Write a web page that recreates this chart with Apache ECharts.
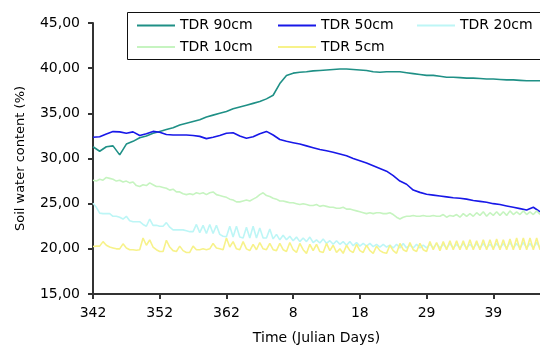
<!DOCTYPE html>
<html>
<head>
<meta charset="utf-8">
<script src="https://cdn.jsdelivr.net/npm/echarts@6/dist/echarts.min.js"></script>
<style>
html,body{margin:0;padding:0;background:#fff;}
#chart{width:540px;height:347px;}
</style>
</head>
<body>
<div id="chart"></div>
<script>
// x tick labels (Julian days), one every 10 axis units
const xTickLabels = ['342', '352', '362', '8', '18', '29', '39'];
const seriesNames = ['TDR 90cm', 'TDR 50cm', 'TDR 20cm', 'TDR 10cm', 'TDR 5cm'];

// daily readings (one per axis unit 0..67)
const tdr90 = [31.3, 30.8, 31.3, 31.4, 30.4, 31.6, 31.9, 32.3, 32.5, 32.8,
  33.0, 33.2, 33.4, 33.7, 33.9, 34.1, 34.3, 34.6, 34.8, 35.0,
  35.2, 35.5, 35.7, 35.9, 36.1, 36.3, 36.6, 37.0, 38.3, 39.2,
  39.45, 39.55, 39.6, 39.7, 39.75, 39.8, 39.85, 39.9, 39.9, 39.85,
  39.8, 39.75, 39.6, 39.55, 39.6, 39.6, 39.6, 39.5, 39.4, 39.3,
  39.2, 39.2, 39.1, 39.0, 39.0, 38.95, 38.9, 38.9, 38.85, 38.8,
  38.8, 38.75, 38.7, 38.7, 38.65, 38.6, 38.6, 38.6];
const tdr50 = [32.35, 32.4, 32.7, 32.98, 32.95, 32.8, 32.95, 32.55, 32.75, 33.0,
  32.9, 32.65, 32.6, 32.6, 32.6, 32.55, 32.45, 32.2, 32.35, 32.55,
  32.8, 32.85, 32.5, 32.25, 32.4, 32.75, 33.0, 32.6, 32.1, 31.9,
  31.75, 31.6, 31.4, 31.2, 31.0, 30.85, 30.7, 30.5, 30.3, 30.0,
  29.75, 29.5, 29.2, 28.9, 28.6, 28.1, 27.5, 27.15, 26.5, 26.25,
  26.05, 25.95, 25.85, 25.75, 25.65, 25.6, 25.5, 25.35, 25.25, 25.15,
  25.0, 24.9, 24.75, 24.6, 24.45, 24.3, 24.6, 24.1];

// half-day readings (two per axis unit, 0..67)
const tdr20 = [25.05, 24.6, 23.95, 23.9, 23.9, 23.9, 23.6, 23.6, 23.5, 23.3,
  23.6, 23.1, 23.0, 23.0, 23.0, 22.7, 22.5, 23.3, 22.6, 22.6,
  22.5, 22.5, 22.9, 22.4, 22.1, 22.1, 22.1, 22.1, 22.0, 21.9,
  21.9, 22.7, 21.8, 22.6, 21.7, 22.7, 21.7, 22.6, 21.6, 21.4,
  21.35, 22.5, 21.3, 22.5, 21.3, 21.2, 22.4, 21.2, 22.5, 21.2,
  22.3, 21.2, 21.2, 22.2, 21.1, 21.6, 21.0, 21.5, 21.0, 21.4,
  20.9, 21.3, 20.8, 21.2, 20.8, 21.3, 20.7, 21.0, 20.65, 21.1,
  20.6, 20.9, 20.5, 20.9, 20.5, 20.8, 20.4, 20.8, 20.35, 20.7,
  20.3, 20.6, 20.3, 20.6, 20.25, 20.5, 20.2, 20.5, 20.2, 20.4,
  20.1, 20.5, 20.1, 20.6, 20.1, 20.4, 20.1, 20.5, 20.1, 20.4,
  20.1, 20.5, 20.1, 20.6, 20.1, 20.5, 20.1, 20.6, 20.1, 20.5,
  20.1, 20.6, 20.1, 20.5, 20.1, 20.6, 20.1, 20.6, 20.1, 20.5,
  20.1, 20.6, 20.1, 20.6, 20.1, 20.7, 20.1, 20.6, 20.1, 20.7,
  20.1, 20.6, 20.1, 20.7, 20.1];
const tdr10 = [27.6, 27.5, 27.7, 27.6, 27.9, 27.8, 27.7, 27.5, 27.6, 27.4,
  27.5, 27.3, 27.4, 27.0, 26.9, 27.1, 27.0, 27.3, 27.1, 26.9,
  26.9, 26.8, 26.7, 26.5, 26.6, 26.3, 26.3, 26.1, 26.0, 26.1,
  26.0, 26.2, 26.1, 26.2, 26.0, 26.2, 26.3, 26.0, 25.9, 25.8,
  25.7, 25.5, 25.4, 25.2, 25.2, 25.3, 25.4, 25.3, 25.5, 25.7,
  26.0, 26.2, 25.9, 25.8, 25.6, 25.5, 25.3, 25.3, 25.2, 25.1,
  25.1, 25.0, 24.9, 25.0, 24.9, 24.8, 24.8, 24.9, 24.7, 24.8,
  24.7, 24.6, 24.6, 24.5, 24.5, 24.6, 24.4, 24.4, 24.3, 24.2,
  24.1, 24.0, 23.9, 24.0, 23.9, 24.0, 24.0, 23.9, 23.9, 24.0,
  23.8, 23.5, 23.3, 23.5, 23.6, 23.6, 23.7, 23.6, 23.6, 23.7,
  23.6, 23.6, 23.7, 23.6, 23.6, 23.8, 23.5, 23.7, 23.6, 23.8,
  23.5, 23.9, 23.6, 23.9, 23.6, 24.0, 23.7, 24.1, 23.6, 24.0,
  23.7, 24.1, 23.7, 24.1, 23.7, 24.2, 23.8, 24.1, 23.8, 24.2,
  23.8, 24.1, 23.8, 24.2, 23.8];
const tdr5 = [20.25, 20.3, 20.3, 20.8, 20.4, 20.2, 20.1, 20.0, 20.0, 20.55,
  20.1, 19.9, 19.9, 19.85, 19.9, 21.2, 20.4, 21.0, 20.2, 19.9,
  19.7, 19.7, 20.95, 20.2, 19.8, 19.7, 20.3, 19.8, 19.6, 19.6,
  20.3, 19.9, 19.9, 20.0, 19.9, 20.0, 20.6, 20.1, 20.0, 19.9,
  21.2, 20.2, 20.8, 20.0, 19.9, 20.8, 20.0, 19.8, 20.5, 19.9,
  20.7, 20.0, 19.9, 20.6, 19.9, 19.8, 20.6, 19.9, 19.7, 20.7,
  19.9, 19.6, 20.6, 19.9, 19.5, 20.5, 19.8, 20.5, 19.7, 19.6,
  20.6, 19.8, 20.4, 19.6, 20.0, 19.5, 20.4, 19.8, 19.6, 20.5,
  19.8, 19.6, 20.4, 19.8, 19.5, 20.3, 19.8, 19.6, 19.5, 20.4,
  19.8, 19.5, 20.6, 19.9, 19.7, 20.7, 19.9, 19.7, 20.6, 19.9,
  19.7, 20.8, 19.9, 20.7, 19.8, 20.8, 19.9, 20.9, 19.9, 20.9,
  19.9, 20.9, 19.9, 21.0, 19.9, 20.9, 19.9, 21.0, 19.9, 21.0,
  19.9, 21.1, 19.9, 21.0, 19.9, 21.1, 19.9, 21.2, 19.9, 21.2,
  19.9, 21.2, 19.9, 21.2, 19.9];

const colors = ['#1F9086', '#1818E8', '#BDF6F6', '#C6F4C0', '#F7F28A'];

function pairDaily(vals) { return vals.map((v, i) => [i, v]); }
function pairHalf(vals) { return vals.map((v, i) => [i / 2, v]); }

const FONT = 'DejaVu Sans';
const chart = echarts.init(document.getElementById('chart'), null, { renderer: 'canvas' });

const dataSets = [pairDaily(tdr90), pairDaily(tdr50), pairHalf(tdr20), pairHalf(tdr10), pairHalf(tdr5)];
const series = seriesNames.map((n, k) => ({
  name: n,
  type: 'line',
  data: dataSets[k],
  symbol: 'none',
  showSymbol: false,
  animation: false,
  lineStyle: { color: colors[k], width: 1.6 },
  itemStyle: { color: colors[k] }
}));

const legendPos = [
  { left: 137, top: 18.5 }, { left: 278, top: 18.5 }, { left: 417, top: 18.5 },
  { left: 137, top: 40 }, { left: 278, top: 40 }
];
const legends = seriesNames.map((n, k) => ({
  data: [n],
  left: legendPos[k].left,
  top: legendPos[k].top,
  orient: 'horizontal',
  icon: 'rect',
  itemWidth: 38,
  itemHeight: 2,
  padding: 0,
  selectedMode: false,
  textStyle: { fontFamily: FONT, fontSize: 14, color: '#000' }
}));

chart.setOption({
  backgroundColor: '#fff',
  animation: false,
  color: colors,
  grid: { left: 93, top: 23, right: 0, bottom: 53, containLabel: false, outerBoundsMode: 'none' },
  legend: legends,
  graphic: [{
    type: 'rect',
    shape: { x: 127.5, y: 12.5, width: 430, height: 47 },
    style: { fill: 'none', stroke: '#111', lineWidth: 1 },
    z: 100
  }],
  xAxis: {
    type: 'value',
    min: 0,
    max: 67,
    interval: 10,
    name: 'Time (Julian Days)',
    nameLocation: 'middle',
    nameGap: 37,
    nameTextStyle: { fontFamily: FONT, fontSize: 14, color: '#000' },
    splitLine: { show: false },
    axisLine: { show: true, lineStyle: { color: '#333', width: 2 } },
    axisTick: { show: true, length: 5, lineStyle: { color: '#333', width: 2 } },
    axisLabel: {
      fontFamily: FONT, fontSize: 14, color: '#000', margin: 12,
      showMaxLabel: false,
      formatter: function (v) {
        const k = Math.round(v / 10);
        if (Math.abs(v - k * 10) > 1e-6) return '';
        return xTickLabels[k] !== undefined ? xTickLabels[k] : '';
      }
    }
  },
  yAxis: {
    type: 'value',
    min: 15,
    max: 45,
    interval: 5,
    name: 'Soil water content (%)',
    nameLocation: 'middle',
    nameGap: 66,
    nameTextStyle: { fontFamily: FONT, fontSize: 13, color: '#000' },
    splitLine: { show: false },
    axisLine: { show: true, lineStyle: { color: '#333', width: 2 } },
    axisTick: { show: true, length: 5, lineStyle: { color: '#333', width: 2 } },
    axisLabel: {
      fontFamily: FONT, fontSize: 14, color: '#000', margin: 13,
      formatter: function (v) { return v.toFixed(2).replace('.', ','); }
    }
  },
  series: series
});
</script>
</body>
</html>
